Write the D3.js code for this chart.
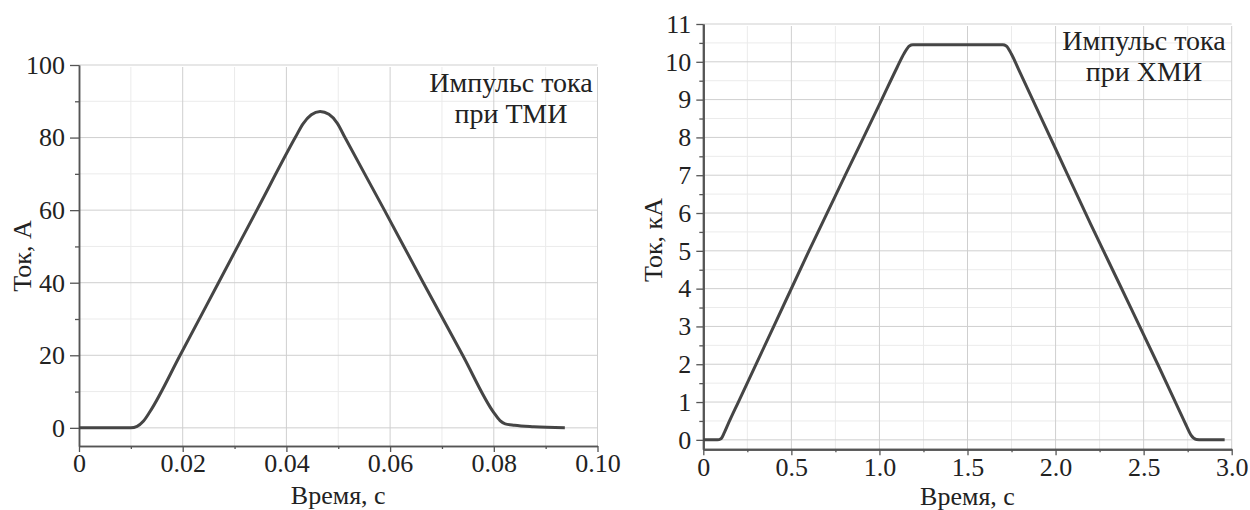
<!DOCTYPE html>
<html>
<head>
<meta charset="utf-8">
<script src="https://cdn.jsdelivr.net/npm/d3@7"></script>
</head>
<body style="margin:0; background:#fff">
<script>
(function () {
  'use strict';

  // --- data ---
  // left panel: current pulse, thermal (ТМИ), A
  var TMI_TIME = [0, 0.0100, 0.0112, 0.0124, 0.0137, 0.0195, 0.0269, 0.0343, 0.0417, 0.0432, 0.0448,
                  0.0465, 0.0482, 0.0498, 0.0513, 0.0589, 0.0664, 0.0740, 0.0800, 0.0812, 0.0822,
                  0.0840, 0.0877, 0.0937];
  var TMI_CURRENT = [0, 0, 0.4, 1.8, 4.5, 20, 40, 60, 80, 83.8, 86.3,
                     87.2, 86.4, 84, 80, 60, 40, 20, 4.2, 2.0, 1.1,
                     0.7, 0.3, 0];
  var TMI_X_TICKS = [0, 0.02, 0.04, 0.06, 0.08, 0.10];
  var TMI_X_LABELS = ['0', '0.02', '0.04', '0.06', '0.08', '0.10'];
  var TMI_X_MINOR = [0.01, 0.03, 0.05, 0.07, 0.09];
  var TMI_Y_TICKS = [0, 20, 40, 60, 80, 100];
  var TMI_Y_MINOR = [10, 30, 50, 70, 90];

  // right panel: current pulse, chemical (ХМИ), kA
  var XMI_TIME = [0, 0.08, 0.10, 0.12, 0.14, 0.199, 0.400, 0.600, 0.806, 1.013, 1.10, 1.14, 1.17, 1.19,
                  1.70, 1.72, 1.75, 1.79, 2.0, 2.2, 2.37, 2.58, 2.70, 2.74, 2.77, 2.80, 2.83, 2.96];
  var XMI_CURRENT = [0, 0, 0.03, 0.2, 0.41, 1, 3, 5, 7, 9, 9.85, 10.22, 10.42, 10.45,
                     10.45, 10.42, 10.2, 9.8, 7.7, 5.7, 4.05, 2.0, 0.8, 0.4, 0.12, 0.01, 0, 0];
  var XMI_X_TICKS = [0, 0.5, 1.0, 1.5, 2.0, 2.5, 3.0];
  var XMI_X_LABELS = ['0', '0.5', '1.0', '1.5', '2.0', '2.5', '3.0'];
  var XMI_X_MINOR = [0.25, 0.75, 1.25, 1.75, 2.25, 2.75];
  var XMI_Y_TICKS = [0, 1, 2, 3, 4, 5, 6, 7, 8, 9, 10, 11];
  var XMI_Y_MINOR = [0.5, 1.5, 2.5, 3.5, 4.5, 5.5, 6.5, 7.5, 8.5, 9.5, 10.5];

  var WIDTH = 1250;
  var HEIGHT = 510;
  var FONT = 'Liberation Serif';
  var COLOR_TEXT = '#222';
  var COLOR_AXIS = '#555';
  var COLOR_GRID_MAJOR = '#cfcfcf';
  var COLOR_GRID_MINOR = '#ebebeb';
  var COLOR_LINE = '#454545';
  var TICK_FONT = 26;
  var TITLE_FONT = 26;
  var NOTE_FONT = 28;

  var svg = d3.select('body').append('svg')
    .attr('width', WIDTH)
    .attr('height', HEIGHT)
    .attr('font-family', FONT);

  function styleText(sel, size) {
    sel.attr('fill', COLOR_TEXT)
      .attr('font-family', FONT)
      .attr('font-size', size);
  }

  function drawPanel(p) {
    var x = d3.scaleLinear().domain(p.xDomain).range([p.left, p.right]);
    var y = d3.scaleLinear().domain(p.yDomain).range([p.bottom, p.top]);
    var gridTop = p.top + 2;

    // grid, minor first so major lines sit on top
    p.xMinor.forEach(function (v) {
      svg.append('line').attr('x1', x(v)).attr('x2', x(v)).attr('y1', gridTop).attr('y2', p.bottom)
        .attr('stroke', COLOR_GRID_MINOR).attr('stroke-width', 1);
    });
    p.yMinor.forEach(function (v) {
      svg.append('line').attr('x1', p.left).attr('x2', p.right).attr('y1', y(v)).attr('y2', y(v))
        .attr('stroke', COLOR_GRID_MINOR).attr('stroke-width', 1);
    });
    p.xTicks.slice(1).forEach(function (v) {
      svg.append('line').attr('x1', x(v)).attr('x2', x(v)).attr('y1', gridTop).attr('y2', p.bottom)
        .attr('stroke', COLOR_GRID_MAJOR).attr('stroke-width', 1);
    });
    p.yTicks.forEach(function (v) {
      svg.append('line').attr('x1', p.left).attr('x2', p.right).attr('y1', y(v)).attr('y2', y(v))
        .attr('stroke', COLOR_GRID_MAJOR).attr('stroke-width', 1);
    });

    // axes
    var xAxis = d3.axisBottom(x).tickValues(p.xTicks)
      .tickFormat(function (d, i) { return p.xLabels[i]; })
      .tickSize(6).tickPadding(2).tickSizeOuter(0);
    var xMinorAxis = d3.axisBottom(x).tickValues(p.xMinor).tickFormat('').tickSize(3).tickSizeOuter(0);
    var yAxis = d3.axisLeft(y).tickValues(p.yTicks).tickSize(p.yTickLen).tickPadding(5).tickSizeOuter(0);
    var yMinorAxis = d3.axisLeft(y).tickValues(p.yMinor).tickFormat('').tickSize(4).tickSizeOuter(0);

    [
      svg.append('g').attr('transform', 'translate(0,' + p.bottom + ')').call(xMinorAxis),
      svg.append('g').attr('transform', 'translate(0,' + p.bottom + ')').call(xAxis),
      svg.append('g').attr('transform', 'translate(' + p.left + ',0)').call(yMinorAxis),
      svg.append('g').attr('transform', 'translate(' + p.left + ',0)').call(yAxis)
    ].forEach(function (ax) {
      ax.attr('font-family', FONT).attr('font-size', TICK_FONT);
      ax.select('.domain').attr('stroke', COLOR_AXIS).attr('stroke-width', p.axisWidth);
      ax.selectAll('.tick line').attr('stroke', COLOR_AXIS).attr('stroke-width', 1.3);
      styleText(ax.selectAll('.tick text'), TICK_FONT);
    });

    // curve
    var pts = p.times.map(function (t, i) { return [t, p.values[i]]; });
    svg.append('path')
      .datum(pts)
      .attr('fill', 'none')
      .attr('stroke', COLOR_LINE)
      .attr('stroke-width', 3)
      .attr('stroke-linejoin', 'round')
      .attr('d', d3.line()
        .x(function (d) { return x(d[0]); })
        .y(function (d) { return y(d[1]); })
        .curve(d3.curveMonotoneX));

    // axis titles
    styleText(svg.append('text')
      .attr('x', (p.left + p.right) / 2)
      .attr('y', p.xTitleY)
      .attr('text-anchor', 'middle')
      .text('Время, с'), TITLE_FONT);

    styleText(svg.append('text')
      .attr('transform', 'translate(' + p.yTitleX + ',' + p.yTitleY + ') rotate(-90)')
      .attr('text-anchor', 'middle')
      .text(p.yTitle), TITLE_FONT);

    // note in the upper right corner
    p.note.forEach(function (line, i) {
      styleText(svg.append('text')
        .attr('x', p.noteX)
        .attr('y', p.noteY + i * 31)
        .attr('text-anchor', 'middle')
        .text(line), NOTE_FONT);
    });
  }

  drawPanel({
    left: 79, right: 597.5, top: 65, bottom: 446,
    xDomain: [0, 0.10], yDomain: [-5, 100],
    xTicks: TMI_X_TICKS, xLabels: TMI_X_LABELS, xMinor: TMI_X_MINOR,
    yTicks: TMI_Y_TICKS, yMinor: TMI_Y_MINOR, yTickLen: 9, axisWidth: 1.5,
    times: TMI_TIME, values: TMI_CURRENT,
    yTitle: 'Ток, А', yTitleX: 31, yTitleY: 256, xTitleY: 504,
    note: ['Импульс тока', 'при ТМИ'], noteX: 511, noteY: 92
  });

  drawPanel({
    left: 703.3, right: 1231.7, top: 24, bottom: 449.3,
    xDomain: [0, 3.0], yDomain: [-0.25, 11],
    xTicks: XMI_X_TICKS, xLabels: XMI_X_LABELS, xMinor: XMI_X_MINOR,
    yTicks: XMI_Y_TICKS, yMinor: XMI_Y_MINOR, yTickLen: 7, axisWidth: 2,
    times: XMI_TIME, values: XMI_CURRENT,
    yTitle: 'Ток, кА', yTitleX: 662, yTitleY: 240, xTitleY: 505,
    note: ['Импульс тока', 'при ХМИ'], noteX: 1144, noteY: 50
  });
})();
</script>
</body>
</html>
